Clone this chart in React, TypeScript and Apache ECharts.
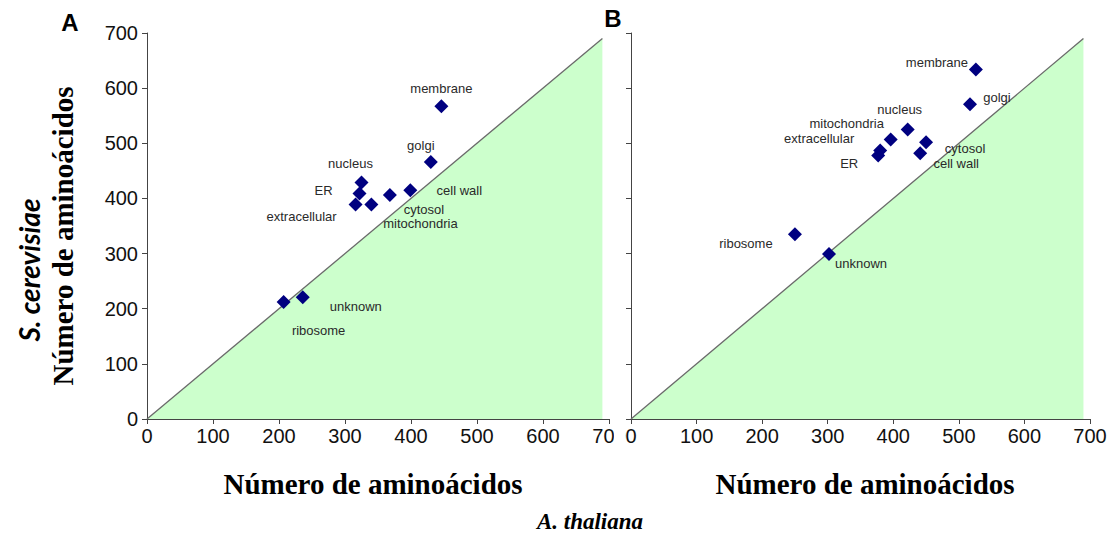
import React, { useEffect, useRef } from "react";
import * as echarts from "echarts";

// Organelle categories (same order for both panels)
const categoriesA = ["membrane", "golgi", "nucleus", "ER", "extracellular", "mitochondria", "cytosol", "cell wall", "ribosome", "unknown"];
const categoriesB = ["membrane", "golgi", "nucleus", "ER", "extracellular", "mitochondria", "cytosol", "cell wall", "ribosome", "unknown"];

// Panel A: A. thaliana length (x) vs S. cerevisiae length (y)
const xValuesA = [446, 430, 325, 322, 316, 340, 368, 399, 207, 236];
const yValuesA = [567, 466, 429, 409, 389, 389, 406, 415, 212, 221];

// Panel B
const xValuesB = [526, 517, 422, 377, 380, 396, 450, 441, 250, 302];
const yValuesB = [634, 571, 525, 478, 487, 507, 502, 482, 335, 299];

// Reference diagonal end value (y = x)
const diagonalEnd = 690;

// Label offsets (pixels from each marker centre)
const labelOffsetsA: [number, number][] = [
  [0, -18], [-10, -17], [-11, -19], [-36, -3], [-54, 12],
  [49, 19], [34, 14], [49, 0], [35, 28], [53, 9],
];
const labelOffsetsB: [number, number][] = [
  [-39, -7], [27, -7], [-8, -20], [-29, 8], [-61, -12],
  [-44, -16], [39, 6], [36, 10], [-49, 9], [32, 9],
];

const SANS = "'Liberation Sans', Arial, sans-serif";
const SERIF = "'Liberation Serif', 'Times New Roman', serif";

function buildPoints(cats: string[], xs: number[], ys: number[], offs: [number, number][]) {
  return cats.map((name, i) => ({
    name,
    value: [xs[i], ys[i]],
    label: { offset: offs[i] },
  }));
}

export default function App() {
  const ref = useRef<HTMLDivElement>(null);

  useEffect(() => {
    if (!ref.current) return;
    const chart = echarts.init(ref.current, null, { renderer: "svg" });

    const axisLine = { lineStyle: { color: "#444", width: 1 } };
    const axisTick = { show: true, inside: false, length: 5, lineStyle: { color: "#444" } };
    const tickLabel = { fontSize: 20, color: "#111", fontFamily: SANS };

    const xAxisBase = (gridIndex: number) => ({
      type: "value" as const,
      gridIndex,
      min: 0,
      max: 700,
      interval: 100,
      axisLine: { show: true, ...axisLine },
      axisTick,
      axisLabel: { ...tickLabel, margin: 7, showMaxLabel: true },
      splitLine: { show: false },
    });

    const scatterBase = {
      type: "scatter" as const,
      symbol: "diamond",
      symbolSize: 14,
      itemStyle: { color: "#000080", opacity: 1 },
      z: 5,
      label: {
        show: true,
        position: "inside" as const,
        formatter: "{b}",
        fontSize: 13,
        lineHeight: 13,
        color: "#2a2a2a",
        textBorderWidth: 0,
        fontFamily: SANS,
      },
    };

    const diagonalBase = {
      type: "line" as const,
      symbol: "none",
      lineStyle: { color: "#6a6a6a", width: 1.3 },
      areaStyle: { color: "#ccffcc", opacity: 1, origin: "start" as const },
      z: 2,
      silent: true,
    };

    chart.setOption({
      animation: false,
      grid: [
        { left: 147, top: 33, width: 462, height: 386 },
        { left: 631, top: 33, width: 459, height: 386 },
      ],
      xAxis: [xAxisBase(0), xAxisBase(1)],
      yAxis: [
        {
          type: "value",
          gridIndex: 0,
          min: 0,
          max: 700,
          interval: 100,
          axisLine: { show: true, ...axisLine },
          axisTick,
          axisLabel: { ...tickLabel, margin: 9 },
          splitLine: { show: false },
        },
        {
          type: "value",
          gridIndex: 1,
          min: 0,
          max: 700,
          interval: 100,
          axisLine: { show: true, ...axisLine },
          axisTick,
          axisLabel: { show: false },
          splitLine: { show: false },
        },
      ],
      series: [
        { ...diagonalBase, xAxisIndex: 0, yAxisIndex: 0, data: [[0, 0], [diagonalEnd, diagonalEnd]] },
        { ...diagonalBase, xAxisIndex: 1, yAxisIndex: 1, data: [[0, 0], [diagonalEnd, diagonalEnd]] },
        { ...scatterBase, xAxisIndex: 0, yAxisIndex: 0, data: buildPoints(categoriesA, xValuesA, yValuesA, labelOffsetsA) },
        { ...scatterBase, xAxisIndex: 1, yAxisIndex: 1, data: buildPoints(categoriesB, xValuesB, yValuesB, labelOffsetsB) },
      ],
      graphic: [
        // panel A's last tick label runs under panel B's frame
        { type: "rect", shape: { x: 614, y: 424, width: 11, height: 26 }, style: { fill: "#fff" }, z: 100 },
        { type: "text", x: 70, y: 22, style: { text: "A", font: `bold 24px ${SANS}`, fill: "#000", align: "center", verticalAlign: "middle" }, z: 100 },
        { type: "text", x: 613, y: 18, style: { text: "B", font: `bold 24px ${SANS}`, fill: "#000", align: "center", verticalAlign: "middle" }, z: 100 },
        { type: "text", x: 373, y: 484, style: { text: "Número de aminoácidos", font: `bold 29px ${SERIF}`, fill: "#000", align: "center", verticalAlign: "middle" }, z: 100 },
        { type: "text", x: 865, y: 484, style: { text: "Número de aminoácidos", font: `bold 29px ${SERIF}`, fill: "#000", align: "center", verticalAlign: "middle" }, z: 100 },
        { type: "text", x: 63, y: 236, rotation: Math.PI / 2, style: { text: "Número de aminoácidos", font: `bold 29px ${SERIF}`, fill: "#000", align: "center", verticalAlign: "middle" }, z: 100 },
        { type: "text", x: 29, y: 270, rotation: Math.PI / 2, style: { text: "S. cerevisiae", font: `italic bold 28px Lato, ${SANS}`, fill: "#000", align: "center", verticalAlign: "middle" }, z: 100 },
        { type: "text", x: 590, y: 521, style: { text: "A. thaliana", font: `italic bold 23px ${SERIF}`, fill: "#000", align: "center", verticalAlign: "middle" }, z: 100 },
      ],
    });

    return () => chart.dispose();
  }, []);

  return (
    <div
      ref={ref}
      style={{ position: "absolute", left: 0, top: 0, width: 1119, height: 538, background: "#fff" }}
    />
  );
}
